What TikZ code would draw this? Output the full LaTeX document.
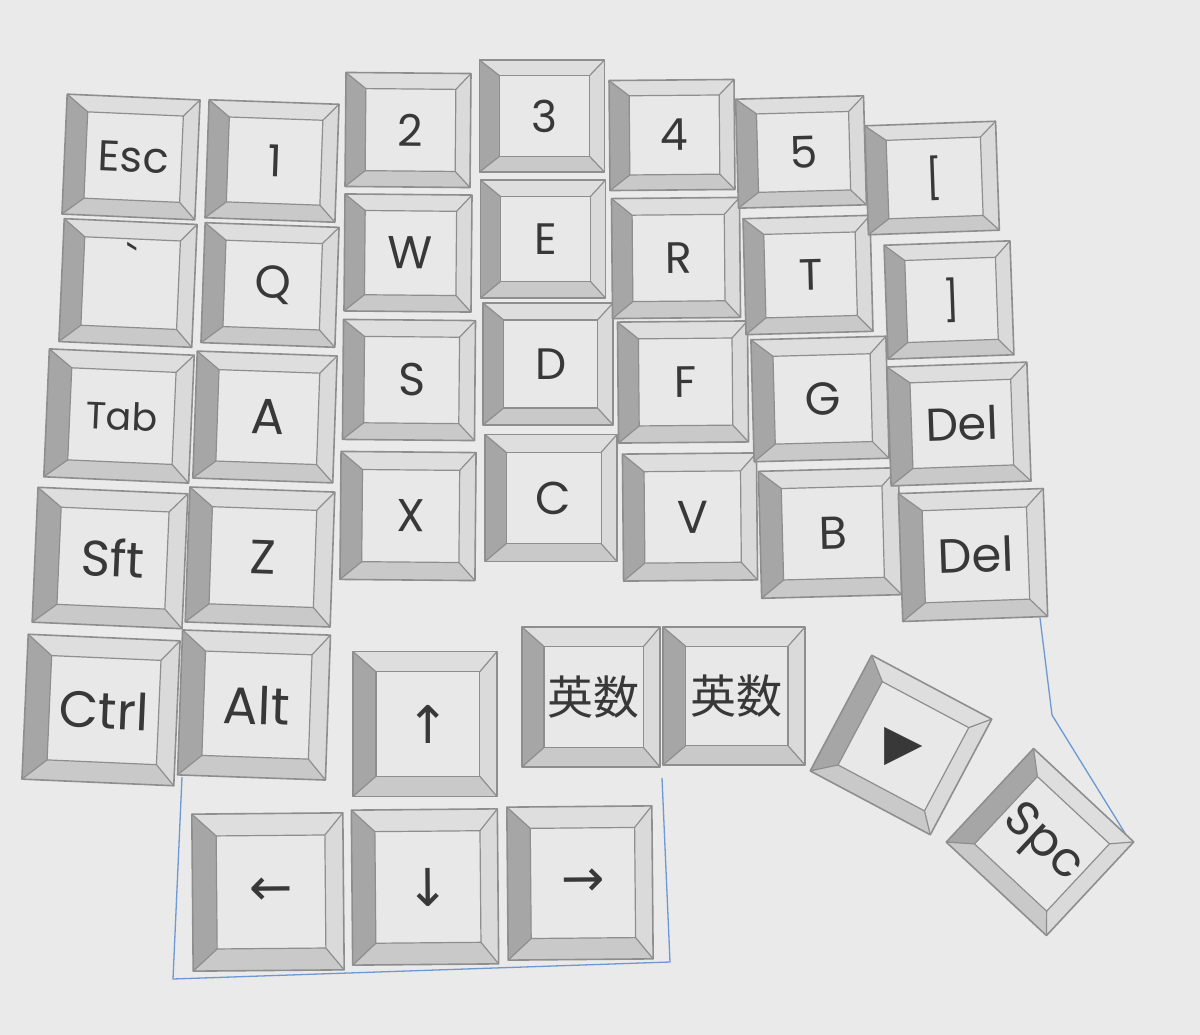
\documentclass[tikz,border=0pt]{standalone}
\usepackage{fontspec}
\setmainfont{Poppins}
\newfontfamily\plainfont[Ligatures=TeXOff]{Poppins}
\newfontfamily\cjkfont{Noto Sans CJK JP}
\newfontfamily\symfont{DejaVu Sans}
\definecolor{paper}{HTML}{EAEAEA}
\definecolor{facecol}{HTML}{E8E8E8}
\definecolor{bevL}{HTML}{A6A6A6}
\definecolor{bevB}{HTML}{C9C9C9}
\definecolor{bevT}{HTML}{DEDEDE}
\definecolor{bevR}{HTML}{DADADA}
\definecolor{edgecol}{HTML}{8E8E8E}
\definecolor{labelcol}{HTML}{383838}
\definecolor{bluecol}{HTML}{6D98D4}
\tikzset{
  keyface/.style={fill=facecol},
  bevleft/.style={fill=bevL},
  bevbottom/.style={fill=bevB},
  bevtop/.style={fill=bevT},
  bevright/.style={fill=bevR},
  keyedge/.style={draw=edgecol, line width=1.6pt, line join=round},
  keyinner/.style={draw=edgecol, line width=1.2pt, line join=round},
  keylabel/.style={text=labelcol, inner sep=0pt, anchor=center},
  outline/.style={draw=bluecol, line width=1.3pt, line join=round},
}
% #1 name, #2 cx, #3 cy (px, down), #4 w, #5 h, #6 rotation, #7 font size, #8 label, #9 extra label options
\newcommand{\keycap}[9]{%
\begin{scope}[shift={(#2,-#3)}, rotate=#6]
\pgfmathsetmacro\kcW{#4/2}%
\pgfmathsetmacro\kcH{#5/2}%
\pgfmathsetmacro\kcL{-\kcW+0.16*#4}%
\pgfmathsetmacro\kcR{\kcW-0.12*#4}%
\pgfmathsetmacro\kcT{\kcH-0.14*#5}%
\pgfmathsetmacro\kcB{-\kcH+0.14*#5}%
\pgfmathsetmacro\kcX{(\kcL+\kcR)/2}%
\pgfmathsetmacro\kcY{(\kcT+\kcB)/2}%
\fill[keyface] (-\kcW,-\kcH) rectangle (\kcW,\kcH);
\fill[bevtop] (-\kcW,\kcH) -- (\kcW,\kcH) -- (\kcR,\kcT) -- (\kcL,\kcT) -- cycle;
\fill[bevright] (\kcW,\kcH) -- (\kcW,-\kcH) -- (\kcR,\kcB) -- (\kcR,\kcT) -- cycle;
\fill[bevbottom] (-\kcW,-\kcH) -- (\kcW,-\kcH) -- (\kcR,\kcB) -- (\kcL,\kcB) -- cycle;
\fill[bevleft] (-\kcW,-\kcH) -- (-\kcW,\kcH) -- (\kcL,\kcT) -- (\kcL,\kcB) -- cycle;
\draw[keyinner] (\kcL,\kcB) rectangle (\kcR,\kcT);
\draw[keyinner] (-\kcW,-\kcH) -- (\kcL,\kcB) (-\kcW,\kcH) -- (\kcL,\kcT)
   (\kcW,\kcH) -- (\kcR,\kcT) (\kcW,-\kcH) -- (\kcR,\kcB);
\draw[keyedge] (-\kcW,-\kcH) rectangle (\kcW,\kcH);
\node[keylabel, transform shape, font=\fontsize{#7}{#7}\selectfont, #9] (#1) at (\kcX,\kcY) {#8};
\end{scope}}
\begin{document}
\begin{tikzpicture}[x=1pt, y=1pt]
\fill[paper] (0,0) rectangle (1200,-1035);
\useasboundingbox (0,0) rectangle (1200,-1035);
% outline of the board
\coordinate (bl1) at (182,-777);
\coordinate (bl2) at (173,-979);
\coordinate (bl3) at (670,-962);
\coordinate (bl4) at (662,-778);
\coordinate (br1) at (1040,-618);
\coordinate (br2) at (1052,-715);
\coordinate (br3) at (1128,-838);
\draw[outline] (bl1) -- (bl2) -- (bl3) -- (bl4);
\draw[outline] (br1) -- (br2) -- (br3);
% column 0
\keycap{esc}{131}{157}{133}{120}{-2.5}{43}{Esc}{}
\keycap{grave}{128}{283}{133}{123}{-2.5}{44}{\plainfont\symbol{"60}}{yshift=24pt}
\keycap{tab}{119}{416}{145}{128}{-2.5}{38}{Tab}{}
\keycap{sft}{110}{558}{150}{135}{-2.5}{50}{Sft}{}
\keycap{ctrl}{101}{710}{152}{145}{-2.5}{51}{Ctrl}{}
% column 1
\keycap{one}{272}{161}{130}{118}{-2}{44}{1}{}
\keycap{q}{270}{285}{134}{120}{-2}{46}{Q}{}
\keycap{a}{265}{417}{140}{127}{-2}{50}{A}{}
\keycap{z}{260}{557}{145}{135}{-2}{48}{Z}{}
\keycap{alt}{254}{705}{148}{145}{-2}{52}{Alt}{}
% column 2
\keycap{two}{408}{130}{125}{114}{-0.5}{44}{2}{}
\keycap{w}{408}{253}{127}{117}{-0.5}{46}{W}{}
\keycap{s}{409}{380}{132}{120}{-0.5}{46}{S}{}
\keycap{x}{408}{516}{135}{128}{-0.5}{46}{X}{}
% column 3
\keycap{three}{542}{116}{125}{112}{0}{44}{3}{}
\keycap{e}{543}{239}{125}{118}{0}{44}{E}{}
\keycap{d}{548}{364}{130}{122}{0}{44}{D}{}
\keycap{c}{551}{498}{132}{127}{0}{46}{C}{}
% column 4
\keycap{four}{672}{135}{125}{110}{0.5}{44}{4}{}
\keycap{r}{676}{258}{128}{120}{0.5}{44}{R}{}
\keycap{f}{683}{382}{130}{121}{0.5}{44}{F}{}
\keycap{v}{690}{517}{134}{127}{0.5}{46}{V}{}
% column 5
\keycap{five}{801}{152}{128}{109}{1.5}{44}{5}{}
\keycap{t}{808}{275}{127}{116}{1.5}{44}{T}{}
\keycap{g}{820}{399}{135}{122}{1.5}{46}{G}{}
\keycap{b}{830}{533}{140}{127}{1.5}{46}{B}{}
% column 6
\keycap{lbr}{932}{178}{131}{109}{2}{40}{[}{}
\keycap{rbr}{949}{300}{126}{114}{2}{40}{]}{}
\keycap{delone}{959}{424}{140}{119}{2}{46}{Del}{}
\keycap{deltwo}{973}{555}{145}{128}{2}{48}{Del}{}
% thumb cluster
\keycap{up}{425}{724}{144}{145}{0}{52}{\symfont ↑}{}
\keycap{eisuone}{591}{697}{138}{140}{0}{46}{\cjkfont 英数}{}
\keycap{eisutwo}{734}{696}{142}{138}{0}{46}{\cjkfont 英数}{}
\keycap{play}{901}{745}{136}{131}{-28}{50}{\symfont ▶}{rotate=28}
\keycap{spc}{1040}{842}{137}{128}{-43}{48}{Spc}{}
% arrow row
\keycap{left}{268}{892}{151}{157}{0.5}{52}{\symfont ←}{}
\keycap{down}{425}{887}{146}{155}{0.5}{52}{\symfont ↓}{}
\keycap{right}{580}{883}{145}{153}{0.5}{52}{\symfont →}{}
\end{tikzpicture}
\end{document}
